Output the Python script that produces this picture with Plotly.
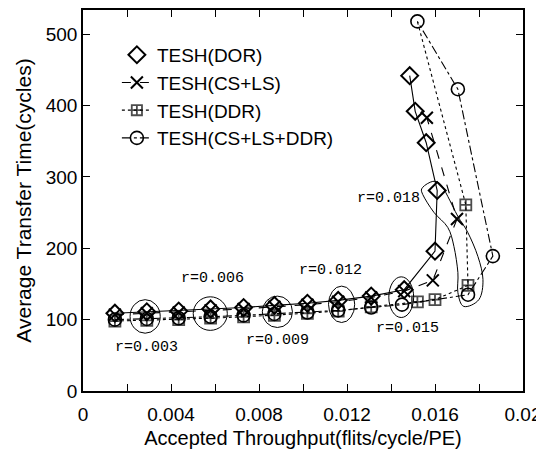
import plotly.graph_objects as go

# ---------------- data ----------------
dor_x = [0.00145, 0.0029, 0.00435, 0.0058, 0.0073, 0.0087, 0.0102, 0.0116, 0.0131, 0.0146,
         0.0160, 0.0161, 0.0156, 0.0151, 0.01485]
dor_y = [109, 111, 112, 115, 117, 120, 123, 127, 133, 142, 196, 281, 348, 392, 442]

csls_x = [0.00145, 0.0029, 0.00435, 0.0058, 0.0073, 0.0087, 0.0102, 0.0116, 0.0131, 0.0146,
          0.0159, 0.0170, 0.01563]
csls_y = [107, 109, 110, 113, 115, 118, 121, 125, 131, 140, 155, 241, 383]

ddr_x = [0.00145, 0.0029, 0.00435, 0.0058, 0.0073, 0.0087, 0.0102, 0.0116, 0.0131,
         0.0152, 0.0160, 0.0175, 0.0174, 0.0152]
ddr_y = [98, 99, 100, 102, 104, 106, 109, 112, 118, 125, 128, 148, 261, 518]

all_x = [0.00145, 0.0029, 0.00435, 0.0058, 0.0073, 0.0087, 0.0102, 0.0116, 0.0131, 0.0145,
         0.0175, 0.01863, 0.01704, 0.0152]
all_y = [100, 101, 102, 104, 106, 108, 110, 113, 117, 121, 135, 189, 423, 518]

names = ["TESH(DOR)", "TESH(CS+LS)", "TESH(DDR)", "TESH(CS+LS+DDR)"]

x_tickvals = [0, 0.002, 0.004, 0.006, 0.008, 0.010, 0.012, 0.014, 0.016, 0.018, 0.020]
x_ticktext = ["0", "", "0.004", "", "0.008", "", "0.012", "", "0.016", "", "0.02"]
y_tickvals = [0, 100, 200, 300, 400, 500]

rate_labels = ["r=0.003", "r=0.006", "r=0.009", "r=0.012", "r=0.015", "r=0.018"]
rate_label_x = [0.0029, 0.0059, 0.00884, 0.01125, 0.01476, 0.0139]
rate_label_y = [61, 158, 71, 169, 88, 270]

# hand-drawn grouping ellipses (x0, x1, y0, y1)
ellipses = [
    (0.00214, 0.00351, 81, 128),
    (0.00501, 0.00656, 85, 132),
    (0.00815, 0.00952, 89, 133),
    (0.01116, 0.01235, 96, 147),
    (0.0139, 0.01503, 103, 160),
]
loop_x = [0.01590, 0.01626, 0.01658, 0.01704, 0.01749, 0.01795, 0.01818, 0.01800, 0.01731,
          0.01704, 0.01704, 0.01686, 0.01658, 0.01595, 0.01544, 0.01544]
loop_y = [293.8, 289.6, 272.8, 244.7, 222.3, 188.6, 156.4, 128.3, 118.5,
          138.1, 166.2, 202.7, 229.3, 250.4, 275.6, 285.4]

# ---------------- figure ----------------
fig = go.Figure()
lc = "black"

fig.add_trace(go.Scatter(x=dor_x, y=dor_y, mode="lines+markers", showlegend=False,
                         line=dict(color=lc, width=1.1, dash="solid"),
                         marker=dict(symbol="diamond-open", size=13, color=lc, line=dict(width=2, color=lc))))
fig.add_trace(go.Scatter(x=[None], y=[None], mode="markers", name=names[0],
                         marker=dict(symbol="diamond-open", size=13, color=lc, line=dict(width=2, color=lc))))
fig.add_trace(go.Scatter(x=csls_x, y=csls_y, mode="lines+markers", name=names[1],
                         line=dict(color=lc, width=1.1, dash="dash"),
                         marker=dict(symbol="x-thin-open", size=12, color=lc, line=dict(width=2, color=lc))))
ddr_sizes = [11] * (len(ddr_x) - 1) + [0]
fig.add_trace(go.Scatter(x=ddr_x, y=ddr_y, mode="lines+markers", name=names[2],
                         line=dict(color=lc, width=1.1, dash="dot"),
                         marker=dict(symbol="square-cross-open", size=ddr_sizes, color=lc, line=dict(width=1.8, color=lc))))
fig.add_trace(go.Scatter(x=all_x, y=all_y, mode="lines+markers", name=names[3],
                         line=dict(color=lc, width=1.1, dash="dashdot"),
                         marker=dict(symbol="circle-open", size=13, color=lc, line=dict(width=1.6, color=lc))))

shapes = []
for (x0, x1, y0, y1) in ellipses:
    shapes.append(dict(type="circle", xref="x", yref="y", x0=x0, x1=x1, y0=y0, y1=y1,
                       line=dict(color=lc, width=1)))

# smooth closed loop (Catmull-Rom -> cubic Bezier)
n = len(loop_x)
path = f"M {loop_x[0]},{loop_y[0]}"
for i in range(n):
    p0 = (loop_x[(i - 1) % n], loop_y[(i - 1) % n])
    p1 = (loop_x[i], loop_y[i])
    p2 = (loop_x[(i + 1) % n], loop_y[(i + 1) % n])
    p3 = (loop_x[(i + 2) % n], loop_y[(i + 2) % n])
    c1 = (p1[0] + (p2[0] - p0[0]) / 6, p1[1] + (p2[1] - p0[1]) / 6)
    c2 = (p2[0] - (p3[0] - p1[0]) / 6, p2[1] - (p3[1] - p1[1]) / 6)
    path += f" C {c1[0]},{c1[1]} {c2[0]},{c2[1]} {p2[0]},{p2[1]}"
path += " Z"
shapes.append(dict(type="path", xref="x", yref="y", path=path, line=dict(color=lc, width=1)))

annotations = []
for t, ax_, ay_ in zip(rate_labels, rate_label_x, rate_label_y):
    annotations.append(dict(x=ax_, y=ay_, xref="x", yref="y", text=t, showarrow=False,
                            font=dict(family="Liberation Mono, monospace", size=15, color=lc)))

font_main = "Liberation Sans, Arial, sans-serif"
# the page body adds an 8px offset, so the figure is sized to fit the 544x453 window
fig.update_layout(
    width=536, height=445,
    margin=dict(l=75, r=21, t=2, b=62, pad=0),
    paper_bgcolor="white", plot_bgcolor="white",
    font=dict(family=font_main, color=lc),
    shapes=shapes, annotations=annotations,
    legend=dict(x=0.077, y=0.932, xanchor="left", yanchor="top", bgcolor="rgba(0,0,0,0)",
                font=dict(family=font_main, size=19, color=lc), tracegroupgap=0,
                itemwidth=30),
    xaxis=dict(range=[0, 0.02], tickvals=x_tickvals, ticktext=x_ticktext,
               ticks="inside", ticklen=7, tickcolor=lc, showline=True, linecolor=lc, linewidth=1.5,
               mirror="ticks", showgrid=False, zeroline=False, automargin=False,
               ticklabeloverflow="allow", ticklabelstandoff=5,
               tickfont=dict(size=19, family=font_main),
               title=dict(text="Accepted Throughput(flits/cycle/PE)", font=dict(size=20, family=font_main),
                          standoff=7)),
    yaxis=dict(range=[0, 534], tickvals=y_tickvals,
               ticks="inside", ticklen=7, tickcolor=lc, showline=True, linecolor=lc, linewidth=1.5,
               mirror="ticks", showgrid=False, zeroline=False, automargin=False,
               tickfont=dict(size=19, family=font_main),
               title=dict(text="Average Transfer Time(cycles)", font=dict(size=21, family=font_main),
                          standoff=8)),
)

fig.write_html("out.html")
